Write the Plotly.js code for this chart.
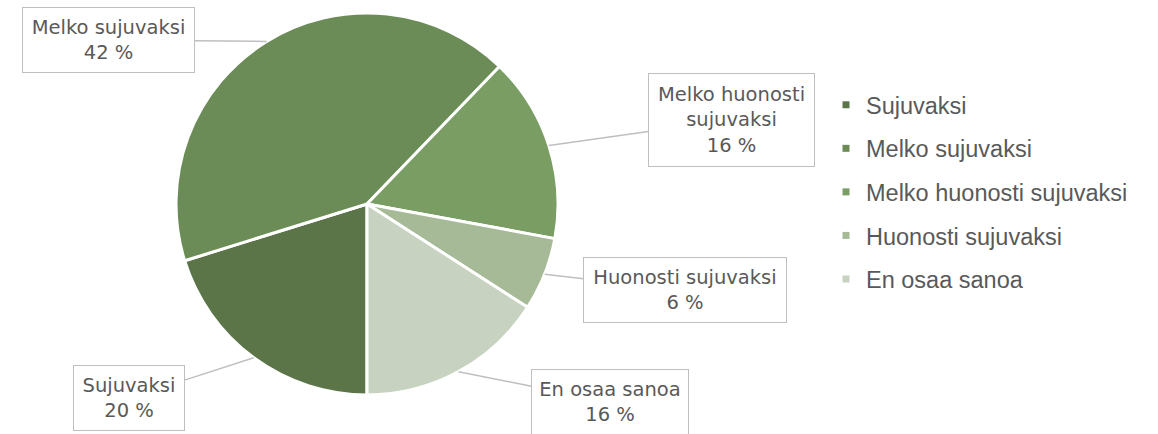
<!DOCTYPE html>
<html>
<head>
<meta charset="utf-8">
<script src="https://cdn.plot.ly/plotly-3.0.1.min.js"></script>
<style>html,body{margin:0;padding:0;background:#fff;}#chart{width:1158px;height:434px;}</style>
</head>
<body>
<div id="chart"></div>
<script>
// ---- data ----
const categories = ["Sujuvaksi", "Melko sujuvaksi", "Melko huonosti sujuvaksi", "Huonosti sujuvaksi", "En osaa sanoa"];
const values = [20.2, 42.0, 15.7, 6.2, 15.9];
const calloutLines = ["Sujuvaksi", "Melko sujuvaksi", "Melko huonosti<br>sujuvaksi", "Huonosti sujuvaksi", "En osaa sanoa"];
const colors = ["#5B7549", "#6B8C56", "#7A9D64", "#A6BA98", "#C7D3C0"];

// ---- layout geometry ----
const W = 1158, H = 434;
const cx = 367, cy = 204, R = 191;
// callout box centres and sizes (px)
const boxes = [
  {x: 129, y: 398, w: 112, h: 66},
  {x: 108, y: 40, w: 173, h: 66},
  {x: 731.5, y: 120, w: 167, h: 94},
  {x: 685, y: 290, w: 204, h: 66},
  {x: 610, y: 402, w: 158, h: 66}
];

const total = values.reduce((a, b) => a + b, 0);
const annotations = [];
let start = 180; // degrees clockwise from 12 o'clock
values.forEach((v, i) => {
  const span = v / total * 360;
  const mid = (start + span / 2) * Math.PI / 180;
  start += span;
  const px = cx + R * Math.sin(mid);
  const py = cy - R * Math.cos(mid);
  const b = boxes[i];
  annotations.push({
    xref: "paper", yref: "paper",
    x: px / W, y: 1 - py / H,
    ax: b.x - px, ay: b.y - py, axref: "pixel", ayref: "pixel",
    showarrow: true, arrowhead: 0, arrowwidth: 1.5, arrowcolor: "#BFBFBF", standoff: 0,
    text: calloutLines[i] + "<br>" + Math.round(v) + " %",
    font: {family: "DejaVu Sans, Roboto, sans-serif", size: 19.5, color: "#595959"},
    bgcolor: "#FFFFFF", bordercolor: "#BFBFBF", borderwidth: 1, borderpad: 0,
    width: b.w - 2, height: b.h - 2, align: "center", valign: "middle"
  });
});

const pie = {
  type: "pie",
  labels: categories,
  values: values,
  sort: false,
  direction: "clockwise",
  rotation: 180,
  marker: {colors: colors, line: {color: "#FFFFFF", width: 3}},
  textinfo: "none",
  hoverinfo: "label+percent",
  showlegend: false,
  domain: {x: [(cx - R) / W, (cx + R) / W], y: [1 - (cy + R) / H, 1 - (cy - R) / H]}
};

// legend entries
const legendTraces = categories.map((c, i) => ({
  type: "scatter", mode: "markers",
  x: [null], y: [null],
  name: c, legendgroup: "g" + i,
  marker: {symbol: "square", size: 7, color: colors[i]},
  hoverinfo: "skip"
}));

const layout = {
  width: W, height: H,
  margin: {l: 0, r: 0, t: 0, b: 0},
  paper_bgcolor: "#FFFFFF", plot_bgcolor: "#FFFFFF",
  xaxis: {visible: false, domain: [0.9, 1]},
  yaxis: {visible: false, domain: [0.9, 1]},
  showlegend: true,
  legend: {
    x: 826 / W, y: 1 - 83 / H, xanchor: "left", yanchor: "top",
    font: {family: "Liberation Sans, Arial, sans-serif", size: 23.5, color: "#595959"},
    tracegroupgap: 10, traceorder: "grouped",
    bgcolor: "rgba(0,0,0,0)"
  },
  annotations: annotations
};

Plotly.newPlot("chart", [pie].concat(legendTraces), layout, {displayModeBar: false, staticPlot: true});
</script>
</body>
</html>
